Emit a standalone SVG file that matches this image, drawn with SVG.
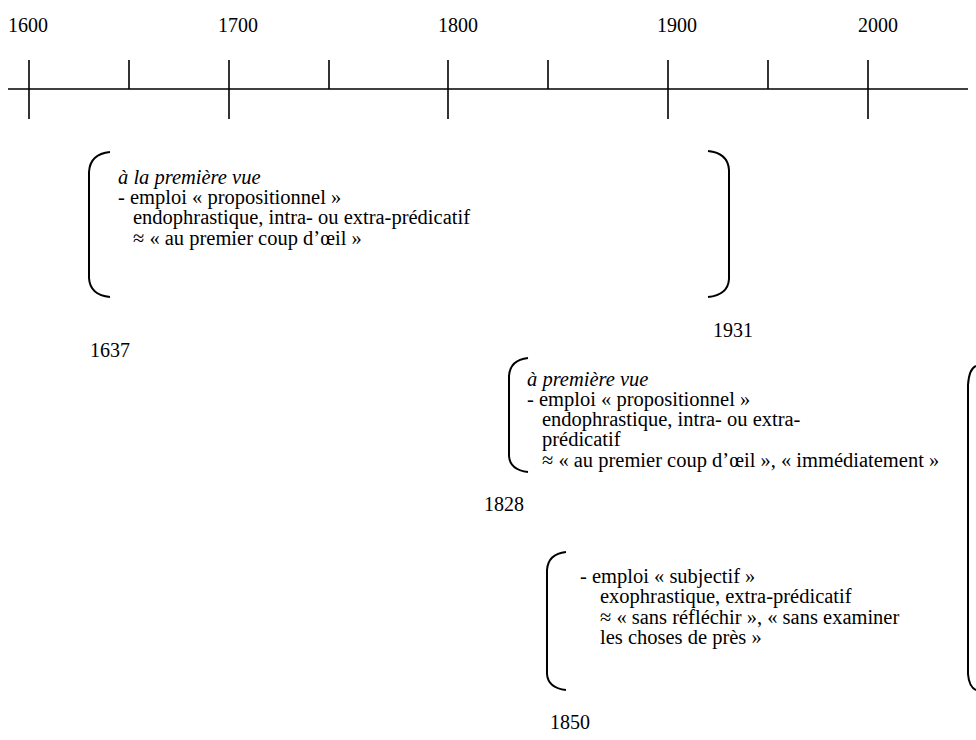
<svg xmlns="http://www.w3.org/2000/svg" width="976" height="740" viewBox="0 0 976 740">
<style>
text{font-family:"Liberation Serif","Times New Roman",serif;font-size:20.5px;fill:#000}
.yr{font-size:20px}
.it{font-style:italic}
.ax{stroke:#000;stroke-width:1.6;fill:none}
.br{stroke:#000;stroke-width:2;fill:none}
</style>
<rect width="976" height="740" fill="#fff"/>
<g id="timeline">
<line class="ax" x1="8" y1="89" x2="968" y2="89"/>
<line class="ax" x1="29" y1="60" x2="29" y2="119"/>
<line class="ax" x1="229" y1="60" x2="229" y2="119"/>
<line class="ax" x1="448" y1="60" x2="448" y2="119"/>
<line class="ax" x1="668" y1="60" x2="668" y2="119"/>
<line class="ax" x1="868" y1="60" x2="868" y2="119"/>
<line class="ax" x1="129" y1="60" x2="129" y2="89"/>
<line class="ax" x1="329" y1="60" x2="329" y2="89"/>
<line class="ax" x1="548" y1="60" x2="548" y2="89"/>
<line class="ax" x1="768" y1="60" x2="768" y2="89"/>
<text class="yr" x="8" y="32">1600</text>
<text class="yr" x="218" y="32">1700</text>
<text class="yr" x="438" y="32">1800</text>
<text class="yr" x="657" y="32">1900</text>
<text class="yr" x="858" y="32">2000</text>
</g>
<g id="node-premiere-vue-1637">
<path class="br" d="M110 152 Q90 154 89 172 L89 278 Q90 295 110 297"/>
<path class="br" d="M708 151 Q728 153 729 170 L729 279 Q728 295 708 297"/>
<text class="it" x="118" y="184">à la première vue</text>
<text x="118" y="204">- emploi « propositionnel »</text>
<text x="133" y="224">endophrastique, intra- ou extra-prédicatif</text>
<text x="133" y="245">≈ « au premier coup d’œil »</text>
<text class="yr" x="90" y="357">1637</text>
<text class="yr" x="713" y="337">1931</text>
</g>
<g id="node-premiere-vue-1828">
<path class="br" d="M528 358 Q510 360 509 376 L509 456 Q510 470 528 472"/>
<text class="it" x="527" y="386">à première vue</text>
<text x="527" y="406">- emploi « propositionnel »</text>
<text x="542" y="426">endophrastique, intra- ou extra-</text>
<text x="542" y="446">prédicatif</text>
<text x="542" y="467">≈ « au premier coup d’œil », « immédiatement »</text>
<text class="yr" x="484" y="511">1828</text>
</g>
<g id="node-subjectif-1850">
<path class="br" d="M566 552 Q548 554 547 570 L547 674 Q548 688 566 690"/>
<text x="580" y="583">- emploi « subjectif »</text>
<text x="600" y="603">exophrastique, extra-prédicatif</text>
<text x="600" y="624">≈ « sans réfléchir », « sans examiner</text>
<text x="600" y="644">les choses de près »</text>
<text class="yr" x="550" y="729">1850</text>
</g>
<g id="node-right-bracket">
<path class="br" d="M976 366 Q969 369 968 385 L968 674 Q969 687 976 690"/>
</g>
<g id="connectors"></g>
</svg>
